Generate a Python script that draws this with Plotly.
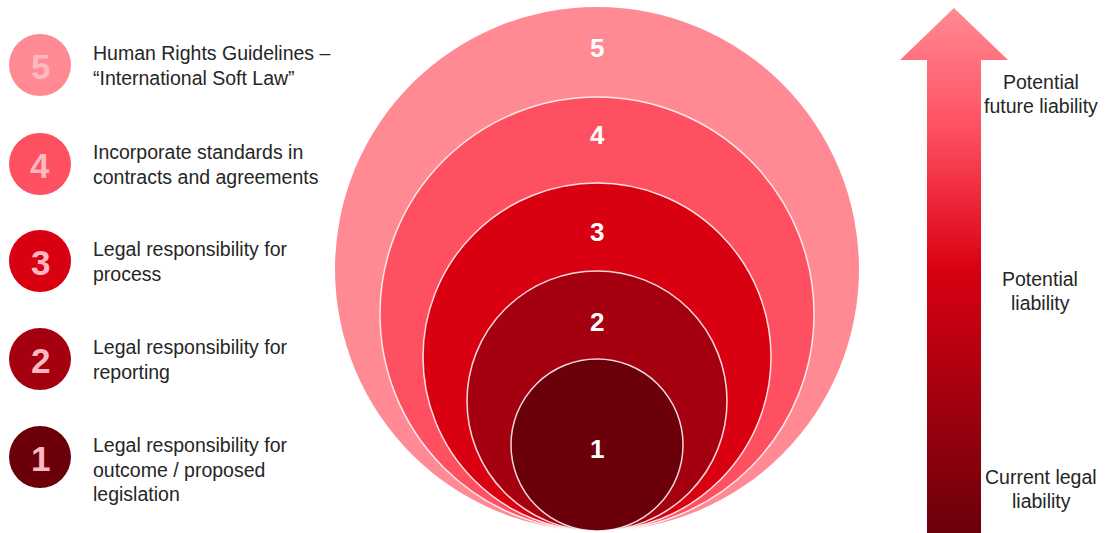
import plotly.graph_objects as go

# ---- data ----
levels = [1, 2, 3, 4, 5]
level_descriptions = [
    ["Legal responsibility for", "outcome / proposed", "legislation"],
    ["Legal responsibility for", "reporting"],
    ["Legal responsibility for", "process"],
    ["Incorporate standards in", "contracts and agreements"],
    ["Human Rights Guidelines \u2013", "\u201cInternational Soft Law\u201d"],
]
arrow_labels = [
    ["Current legal", "liability"],
    ["Potential", "liability"],
    ["Potential", "future liability"],
]

# ---- styling / geometry ----
W, H = 1107, 533
level_colors = ["#6B000B", "#A50010", "#D90012", "#FF5061", "#FF8A94"]
ring_radii = [86, 130, 174, 217, 262]
ring_cx, ring_bottom = 597, 531
ring_label_y = [449, 322, 232, 135, 48]
legend_cx, legend_r = 40, 31
legend_cy = [457, 359, 261, 164, 65]
legend_text_x = 91
arrow_label_pos = [(1041, 477), (1040, 279), (1041, 82)]
FONT = "Liberation Sans, Arial, sans-serif"
TEXT_SIZE = 19.5

fig = go.Figure()
shapes = []
annotations = []

# nested circles (largest first)
for i in reversed(range(len(levels))):
    r = ring_radii[i]
    cy = ring_bottom - r
    shapes.append(dict(
        type="circle", xref="x", yref="y",
        x0=ring_cx - r, x1=ring_cx + r, y0=cy - r, y1=cy + r,
        fillcolor=level_colors[i],
        line=dict(color="rgba(255,255,255,0.85)" if i < 4 else "rgba(0,0,0,0)", width=1.5),
        layer="below",
    ))
    annotations.append(dict(
        x=ring_cx, y=ring_label_y[i], xref="x", yref="y", text=f"<b>{levels[i]}</b>",
        showarrow=False, font=dict(family=FONT, size=26, color="white"),
        xanchor="center", yanchor="middle",
    ))

# legend circles + text
for i, lv in enumerate(levels):
    cy = legend_cy[i]
    shapes.append(dict(
        type="circle", xref="x", yref="y",
        x0=legend_cx - legend_r, x1=legend_cx + legend_r,
        y0=cy - legend_r, y1=cy + legend_r,
        fillcolor=level_colors[i], line=dict(width=0), layer="below",
    ))
    annotations.append(dict(
        x=legend_cx, y=cy + 1, xref="x", yref="y", text=f"<b>{lv}</b>",
        showarrow=False, font=dict(family=FONT, size=35, color="#FFB8BF"),
        xanchor="center", yanchor="middle",
    ))
    for j, line in enumerate(level_descriptions[i]):
        annotations.append(dict(
            x=legend_text_x, y=cy - 12 + 24.5 * j, xref="x", yref="y", text=line,
            showarrow=False, font=dict(family=FONT, size=TEXT_SIZE, color="#262626"),
            xanchor="left", yanchor="middle",
        ))

# gradient arrow
ax = [927, 927, 900, 954, 1008, 981, 981, 927]
ay = [533, 60, 60, 8, 60, 60, 533, 533]
fig.add_trace(go.Scatter(
    x=ax, y=ay, mode="lines", fill="toself", line=dict(width=0),
    fillgradient=dict(
        type="vertical", start=8, stop=531,
        colorscale=[[0, "#FF8A94"], [0.23, "#FF5061"], [0.5, "#D90012"], [1, "#6B000B"]],
    ),
    hoverinfo="skip", showlegend=False,
))

for (x, y), lines in zip(arrow_label_pos, arrow_labels):
    for j, line in enumerate(lines):
        annotations.append(dict(
            x=x, y=y + 24 * j, xref="x", yref="y", text=line,
            showarrow=False, font=dict(family=FONT, size=TEXT_SIZE, color="#262626"),
            xanchor="center", yanchor="middle",
        ))

fig.update_layout(
    width=W, height=H, margin=dict(l=0, r=0, t=0, b=0),
    paper_bgcolor="white", plot_bgcolor="white",
    xaxis=dict(range=[0, W], visible=False, fixedrange=True),
    yaxis=dict(range=[H, 0], visible=False, fixedrange=True),
    shapes=shapes, annotations=annotations, showlegend=False,
)

fig.write_html(
    "out.html",
    config={"displayModeBar": False},
    post_script="document.body.style.margin='0';document.body.style.overflow='hidden';",
)
